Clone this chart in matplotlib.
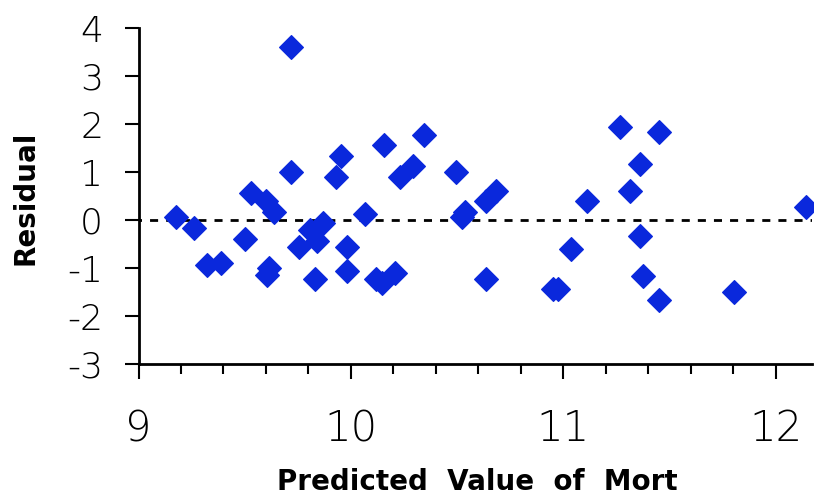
import numpy as np
import matplotlib
matplotlib.use("Agg")
import matplotlib.pyplot as plt
from matplotlib.ticker import MultipleLocator

# predicted values and residuals
predicted = [9.176, 9.262, 9.323, 9.388, 9.500, 9.528, 9.600, 9.638, 9.603, 9.616,
             9.716, 9.716, 9.754, 9.807, 9.842, 9.867, 9.831, 9.930, 9.955, 9.980,
             9.980, 10.068, 10.118, 10.145, 10.156, 10.208, 10.231, 10.294, 10.346, 10.495,
             10.522, 10.538, 10.635, 10.684, 10.635, 10.951, 10.973, 11.036, 11.111, 11.265,
             11.312, 11.362, 11.362, 11.375, 11.450, 11.452, 11.802, 12.140]
residual = [0.055, -0.17, -0.94, -0.89, -0.40, 0.56, 0.40, 0.17, -1.15, -0.99,
            3.61, 1.00, -0.56, -0.21, -0.44, -0.055, -1.22, 0.90, 1.34, -0.56,
            -1.06, 0.12, -1.22, -1.32, 1.556, -1.11, 0.89, 1.12, 1.78, 1.00,
            0.055, 0.17, 0.40, 0.61, -1.22, -1.44, -1.44, -0.61, 0.40, 1.94,
            0.61, 1.17, -0.33, -1.17, -1.67, 1.83, -1.50, 0.28]

x_ticks = [9, 10, 11, 12]
y_ticks = [-3, -2, -1, 0, 1, 2, 3, 4]

plt.rcParams["axes.unicode_minus"] = False

W, H = 814, 497
fig = plt.figure(figsize=(W / 100, H / 100), dpi=100)
ax = fig.add_axes([138.5 / W, 1 - 364 / H, (812 - 138.5) / W, (364 - 28) / H])

ax.axhline(0, color="black", lw=2.0, linestyle=(2, (2.9, 2.9)), zorder=1)
ax.plot(predicted, residual, linestyle="none", marker="D", markersize=12.5,
        color="#0a28dc", markeredgecolor="#0a28dc", markeredgewidth=0.8,
        clip_on=False, zorder=3)

ax.set_xlim(9, 12.17)
ax.set_ylim(-3, 4)
ax.set_xticks(x_ticks)
ax.set_yticks(y_ticks)
ax.xaxis.set_minor_locator(MultipleLocator(0.2))

for side in ("top", "right"):
    ax.spines[side].set_visible(False)
for side in ("left", "bottom"):
    ax.spines[side].set_linewidth(2.0)

ax.tick_params(axis="y", which="major", length=10, width=1.5, pad=15.5, labelsize=26)
ax.tick_params(axis="x", which="major", length=11, width=1.5, pad=21, labelsize=30)
ax.tick_params(axis="x", which="minor", length=7, width=1.5)
for lab in ax.get_xticklabels() + ax.get_yticklabels():
    lab.set_fontweight("light")

fig.text(33.3 / W, 1 - 197.5 / H, "Residual", rotation=90, rotation_mode="anchor",
         ha="center", va="baseline", fontsize=20, fontweight="bold")
fig.text(477 / W, 1 - 490 / H, "Predicted  Value  of  Mort", ha="center",
         va="baseline", fontsize=20, fontweight="bold")

fig.savefig("out.png", dpi=100, facecolor="white")
